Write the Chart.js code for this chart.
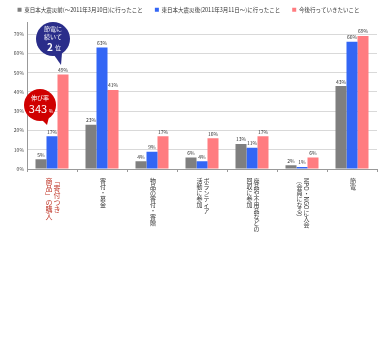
<!DOCTYPE html>
<html>
<head>
<meta charset="utf-8">
<script src="https://cdn.jsdelivr.net/npm/chart.js@4.4.1/dist/chart.umd.min.js"></script>
<style>
  html, body { margin: 0; padding: 0; background: #fff; }
  #wrap { width: 384px; height: 358px; position: relative; }
</style>
</head>
<body>
<div id="wrap"><canvas id="myChart" width="384" height="358"></canvas></div>
<script>
// categories (vertical labels, columns read right -> left)
let categories = [
  ['「寄付つき', '商品」の購入'],
  ['寄付・募金'],
  ['物品の寄付・寄贈'],
  ['ボランティア', '活動に参加'],
  ['廃品や不用品などの', '回収に参加'],
  ['NPO・NGOに入会', '（会員になる）'],
  ['節電']
];
let seriesNames = [
  '東日本大震災前(〜2011年3月10日)に行ったこと',
  '東日本大震災後(2011年3月11日〜)に行ったこと',
  '今後行っていきたいこと'
];
let beforeQuake = [5, 23, 4, 6, 13, 2, 43];
let afterQuake = [17, 63, 9, 4, 11, 1, 66];
let future = [49, 41, 17, 16, 17, 6, 69];
let yTicks = [0, 10, 20, 30, 40, 50, 60, 70];

const FONT = '"Noto Sans CJK JP", "Noto Sans", sans-serif';

function drawVertical(ctx, text, x, y, size) {
    let cy = y;
    for (const ch of text) {
        if (/[\x21-\x7e]/.test(ch)) {
            let w = ctx.measureText(ch).width;
            ctx.save();
            ctx.translate(x, cy + w / 2);
            ctx.rotate(Math.PI / 2);
            ctx.fillText(ch, 0, 0);
            ctx.restore();
            cy += w;
        } else if ('「」（）ー〜'.includes(ch)) {
            ctx.save();
            ctx.translate(x, cy + size / 2);
            ctx.rotate(Math.PI / 2);
            ctx.fillText(ch, 0, 0);
            ctx.restore();
            cy += size;
        } else {
            ctx.fillText(ch, x, cy + size / 2);
            cy += size;
        }
    }
}

// value labels, vertical category labels, callout bubbles
const extras = {
    id: 'extras',
    afterDatasetsDraw(chart) {
        const ctx = chart.ctx;
        const xScale = chart.scales.x;
        const area = chart.chartArea;
        ctx.save();
        // value labels
        ctx.font = '5px ' + FONT;
        ctx.fillStyle = '#333';
        ctx.textAlign = 'center';
        ctx.textBaseline = 'bottom';
        chart.data.datasets.forEach((ds, di) => {
            chart.getDatasetMeta(di).data.forEach((bar, i) => {
                ctx.fillText(ds.data[i] + '%', bar.x, bar.y - 2);
            });
        });
        // category labels
        ctx.textBaseline = 'middle';
        categories.forEach((cols, i) => {
            let cx = xScale.getPixelForValue(i) + 1;
            let size = i === 0 ? 7 : 6;
            let gap = i === 0 ? 8 : 7;
            ctx.font = size + 'px ' + FONT;
            ctx.fillStyle = i === 0 ? '#c0392b' : '#333';
            cols.forEach((col, k) => {
                let x = cx + (cols.length - 1) / 2 * gap - k * gap;
                drawVertical(ctx, col, x, area.bottom + 9, size);
            });
        });

        // navy bubble
        ctx.fillStyle = '#2a2d8a';
        ctx.beginPath();
        ctx.arc(53, 39, 17, 0, Math.PI * 2);
        ctx.fill();
        ctx.beginPath();
        ctx.moveTo(62, 53);
        ctx.lineTo(61, 65);
        ctx.lineTo(54, 55);
        ctx.closePath();
        ctx.fill();
        ctx.fillStyle = '#fff';
        ctx.textAlign = 'center';
        ctx.font = '6px ' + FONT;
        ctx.fillText('節電に', 53, 29);
        ctx.fillText('続いて', 53, 37);
        ctx.font = 'bold 10px ' + FONT;
        ctx.fillText('2', 50, 47);
        ctx.font = '6px ' + FONT;
        ctx.fillText('位', 58, 48);

        // red bubble
        ctx.fillStyle = '#d00000';
        ctx.beginPath();
        ctx.arc(40, 105, 16, 0, Math.PI * 2);
        ctx.fill();
        ctx.beginPath();
        ctx.moveTo(49, 117);
        ctx.lineTo(47, 125);
        ctx.lineTo(42, 120);
        ctx.closePath();
        ctx.fill();
        ctx.fillStyle = '#fff';
        ctx.font = '6px ' + FONT;
        ctx.fillText('伸び率', 40, 98);
        ctx.font = '11px ' + FONT;
        ctx.fillText('343', 38, 109);
        ctx.font = '5px ' + FONT;
        ctx.fillText('%', 51, 111);
        ctx.restore();
    }
};

let ctx = document.getElementById('myChart').getContext('2d');
let myChart = new Chart(ctx, {
    type: 'bar',
    data: {
        labels: categories.map(c => c.join('')),
        datasets: [{
            label: seriesNames[0],
            data: beforeQuake,
            backgroundColor: '#7f7f7f'
        }, {
            label: seriesNames[1],
            data: afterQuake,
            backgroundColor: '#3366f5'
        }, {
            label: seriesNames[2],
            data: future,
            backgroundColor: '#ff7c80'
        }]
    },
    options: {
        responsive: false,
        animation: false,
        layout: { padding: { left: 0, right: 7, top: -5, bottom: 0 } },
        datasets: {
            bar: { categoryPercentage: 0.66, barPercentage: 1.0, borderWidth: 0 }
        },
        plugins: {
            legend: {
                position: 'top',
                labels: {
                    boxWidth: 4,
                    boxHeight: 4,
                    padding: 12,
                    color: '#333',
                    font: { family: FONT, size: 5.5 }
                }
            },
            tooltip: { enabled: false }
        },
        scales: {
            x: {
                grid: { display: true, drawOnChartArea: false, drawTicks: true, tickLength: 3, color: '#999' },
                border: { color: '#999' },
                ticks: { display: false },
                afterFit: s => { s.height = 189; }
            },
            y: {
                min: 0,
                max: 76,
                afterBuildTicks: s => { s.ticks = yTicks.map(v => ({ value: v })); },
                grid: { color: '#d9d9d9', drawTicks: false },
                border: { color: '#999' },
                ticks: {
                    padding: 3,
                    color: '#444',
                    font: { family: FONT, size: 5 },
                    callback: v => v + '%'
                },
                afterFit: s => { s.width = 27; }
            }
        }
    },
    plugins: [extras]
});
</script>
</body>
</html>
